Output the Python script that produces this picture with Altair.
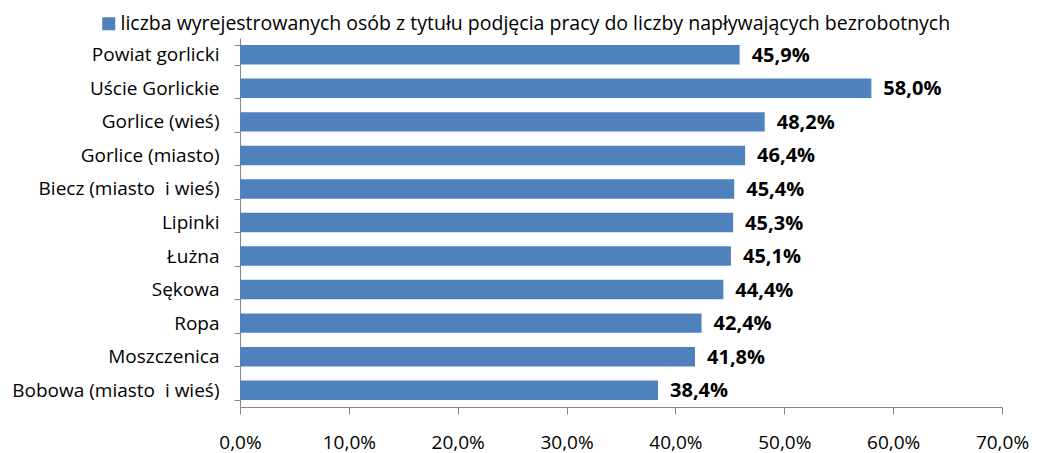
import altair as alt
import pandas as pd

categories = [
    "Powiat gorlicki",
    "Uście Gorlickie",
    "Gorlice (wieś)",
    "Gorlice (miasto)",
    "Biecz (miasto\u00a0 i wieś)",
    "Lipinki",
    "Łużna",
    "Sękowa",
    "Ropa",
    "Moszczenica",
    "Bobowa (miasto\u00a0 i wieś)",
]
values = [45.9, 58.0, 48.2, 46.4, 45.4, 45.3, 45.1, 44.4, 42.4, 41.8, 38.4]
series_name = "liczba wyrejestrowanych osób z tytułu podjęcia pracy do liczby napływających bezrobotnych"
x_ticks = [0, 10, 20, 30, 40, 50, 60, 70]

df = pd.DataFrame({"gmina": categories, "wartosc": values, "seria": series_name})

W, H = 762, 369
FONT = "Open Sans"
GRAY = "#868686"

y_enc = alt.Y(
    "gmina:N",
    sort=categories,
    scale=alt.Scale(paddingInner=0.42, paddingOuter=0.21),
    axis=alt.Axis(
        title=None,
        domainColor=GRAY,
        tickColor=GRAY,
        tickSize=6,
        tickBand="extent",
        labelFont=FONT,
        labelFontSize=19,
        labelColor="black",
        labelPadding=15,
        labelLimit=400,
    ),
)
x_enc = alt.X(
    "wartosc:Q",
    scale=alt.Scale(domain=[0, 70], nice=False),
    axis=alt.Axis(
        title=None,
        values=x_ticks,
        grid=False,
        domainColor=GRAY,
        tickColor=GRAY,
        tickSize=7,
        labelFont=FONT,
        labelFontSize=19,
        labelColor="black",
        labelPadding=19,
        labelFlush=False,
        labelExpr="replace(format(datum.value, '.1f'), '.', ',') + '%'",
    ),
)

bars = alt.Chart(df).mark_bar(color="#4F81BD").encode(
    x=x_enc,
    y=y_enc,
    color=alt.Color(
        "seria:N",
        scale=alt.Scale(range=["#4F81BD"]),
        legend=alt.Legend(
            title=None,
            orient="none",
            legendX=-141,
            legendY=-24,
            symbolType="square",
            symbolSize=169,
            symbolStrokeWidth=0,
            labelFont=FONT,
            labelFontSize=19.5,
            labelColor="black",
            labelOffset=2,
            labelLimit=1000,
        ),
    ),
)

labels = (
    alt.Chart(df)
    .transform_calculate(label="replace(format(datum.wartosc, '.1f'), '.', ',') + '%'")
    .mark_text(align="left", baseline="middle", dx=12, dy=1, font=FONT, fontSize=20, fontWeight="bold", color="black")
    .encode(x="wartosc:Q", y=alt.Y("gmina:N", sort=categories), text="label:N")
)

chart = (
    alt.layer(bars, labels)
    .properties(
        width=W,
        height=H,
        autosize=alt.AutoSizeParams(type="none"),
        padding={"left": 232, "top": 30, "right": 28, "bottom": 46},
        background="white",
    )
    .configure_view(stroke=None)
)

chart.save("out.html", embed_options={"renderer": "svg", "actions": False})
